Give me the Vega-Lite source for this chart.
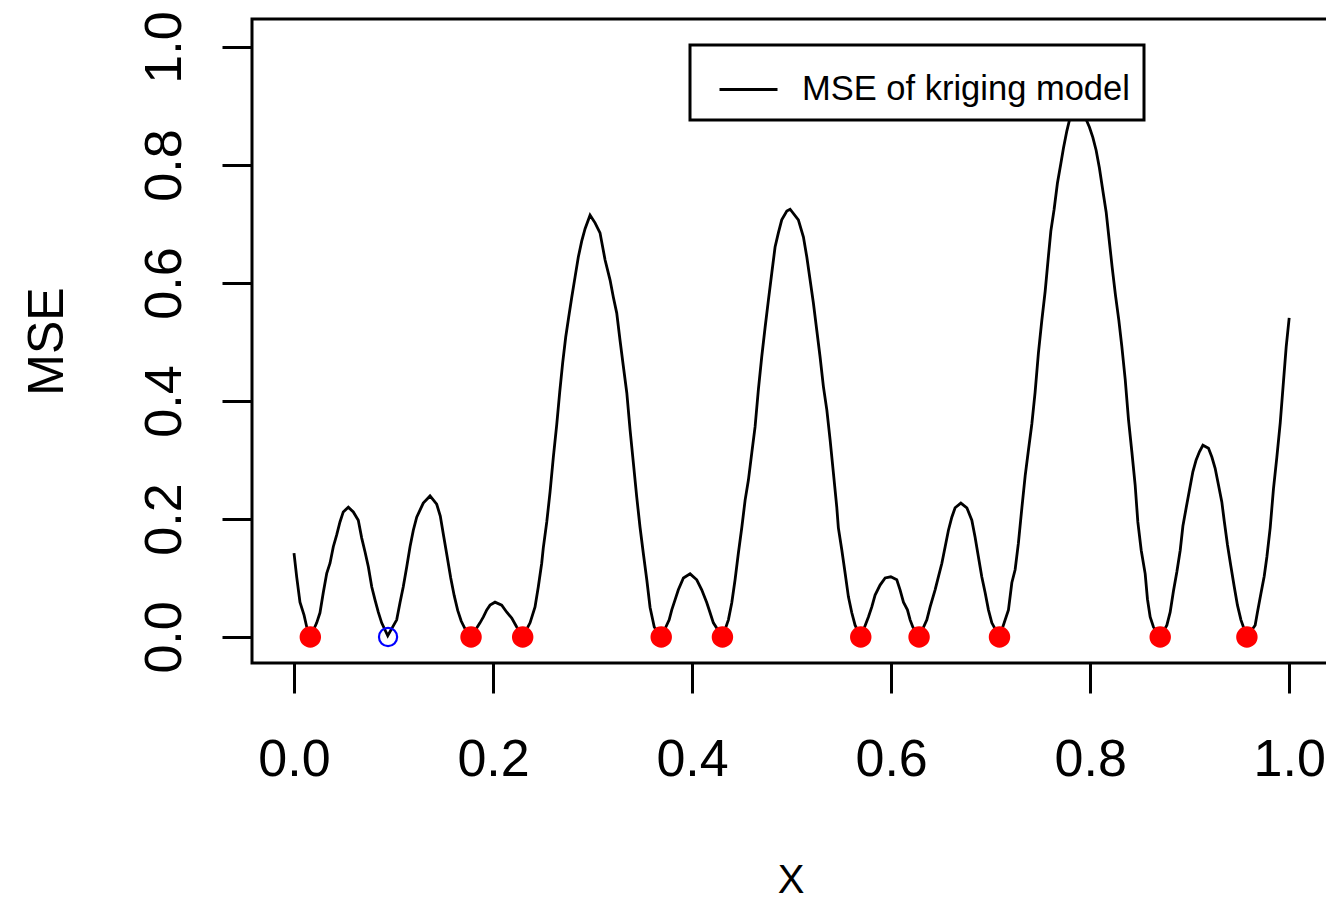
{
  "$schema": "https://vega.github.io/schema/vega-lite/v6.json",
  "width": 1077,
  "height": 644,
  "autosize": {"type": "none"},
  "padding": {"left": 252, "top": 19, "right": -3, "bottom": 239},
  "background": "white",
  "config": {
    "font": "Liberation Sans",
    "view": {"stroke": "black", "strokeWidth": 3},
    "legend": {"strokeWidth": 3}
  },
  "datasets": {
    "curve": [
      {"x": 0.0000, "mse": 0.142}, {"x": 0.0027, "mse": 0.102}, {"x": 0.0060, "mse": 0.059}, {"x": 0.0101, "mse": 0.037},
      {"x": 0.0128, "mse": 0.017}, {"x": 0.0164, "mse": 0.0}, {"x": 0.0228, "mse": 0.024}, {"x": 0.0261, "mse": 0.041},
      {"x": 0.0294, "mse": 0.075}, {"x": 0.0329, "mse": 0.108}, {"x": 0.0362, "mse": 0.125}, {"x": 0.0395, "mse": 0.153},
      {"x": 0.0429, "mse": 0.173}, {"x": 0.0462, "mse": 0.195}, {"x": 0.0495, "mse": 0.212}, {"x": 0.0546, "mse": 0.220},
      {"x": 0.0596, "mse": 0.212}, {"x": 0.0646, "mse": 0.198}, {"x": 0.0680, "mse": 0.168}, {"x": 0.0714, "mse": 0.144},
      {"x": 0.0747, "mse": 0.119}, {"x": 0.0781, "mse": 0.085}, {"x": 0.0814, "mse": 0.063}, {"x": 0.0847, "mse": 0.042},
      {"x": 0.0881, "mse": 0.024}, {"x": 0.0942, "mse": 0.002}, {"x": 0.1032, "mse": 0.029}, {"x": 0.1065, "mse": 0.058},
      {"x": 0.1098, "mse": 0.085}, {"x": 0.1133, "mse": 0.119}, {"x": 0.1166, "mse": 0.153}, {"x": 0.1199, "mse": 0.181},
      {"x": 0.1233, "mse": 0.203}, {"x": 0.1266, "mse": 0.215}, {"x": 0.1299, "mse": 0.227}, {"x": 0.1367, "mse": 0.239},
      {"x": 0.1434, "mse": 0.225}, {"x": 0.1470, "mse": 0.205}, {"x": 0.1505, "mse": 0.170}, {"x": 0.1540, "mse": 0.135},
      {"x": 0.1575, "mse": 0.100}, {"x": 0.1610, "mse": 0.070}, {"x": 0.1645, "mse": 0.045}, {"x": 0.1680, "mse": 0.027},
      {"x": 0.1715, "mse": 0.015}, {"x": 0.1779, "mse": 0.0}, {"x": 0.1869, "mse": 0.024}, {"x": 0.1903, "mse": 0.034},
      {"x": 0.1937, "mse": 0.046}, {"x": 0.1970, "mse": 0.054}, {"x": 0.2020, "mse": 0.059}, {"x": 0.2087, "mse": 0.054},
      {"x": 0.2138, "mse": 0.042}, {"x": 0.2188, "mse": 0.032}, {"x": 0.2238, "mse": 0.017}, {"x": 0.2298, "mse": 0.0},
      {"x": 0.2372, "mse": 0.024}, {"x": 0.2422, "mse": 0.051}, {"x": 0.2455, "mse": 0.085}, {"x": 0.2489, "mse": 0.125},
      {"x": 0.2505, "mse": 0.151}, {"x": 0.2540, "mse": 0.195}, {"x": 0.2573, "mse": 0.246}, {"x": 0.2606, "mse": 0.305},
      {"x": 0.2640, "mse": 0.360}, {"x": 0.2670, "mse": 0.415}, {"x": 0.2700, "mse": 0.465}, {"x": 0.2730, "mse": 0.508},
      {"x": 0.2760, "mse": 0.542}, {"x": 0.2791, "mse": 0.576}, {"x": 0.2824, "mse": 0.610}, {"x": 0.2857, "mse": 0.644},
      {"x": 0.2891, "mse": 0.671}, {"x": 0.2925, "mse": 0.692}, {"x": 0.2975, "mse": 0.715}, {"x": 0.3025, "mse": 0.702},
      {"x": 0.3075, "mse": 0.685}, {"x": 0.3126, "mse": 0.639}, {"x": 0.3176, "mse": 0.605}, {"x": 0.3209, "mse": 0.576},
      {"x": 0.3243, "mse": 0.549}, {"x": 0.3276, "mse": 0.503}, {"x": 0.3310, "mse": 0.458}, {"x": 0.3344, "mse": 0.414},
      {"x": 0.3377, "mse": 0.351}, {"x": 0.3410, "mse": 0.295}, {"x": 0.3444, "mse": 0.237}, {"x": 0.3477, "mse": 0.186},
      {"x": 0.3510, "mse": 0.142}, {"x": 0.3545, "mse": 0.097}, {"x": 0.3578, "mse": 0.050}, {"x": 0.3620, "mse": 0.017},
      {"x": 0.3690, "mse": 0.0}, {"x": 0.3770, "mse": 0.029}, {"x": 0.3796, "mse": 0.046}, {"x": 0.3829, "mse": 0.063},
      {"x": 0.3862, "mse": 0.080}, {"x": 0.3913, "mse": 0.100}, {"x": 0.3980, "mse": 0.107}, {"x": 0.4047, "mse": 0.097},
      {"x": 0.4097, "mse": 0.080}, {"x": 0.4148, "mse": 0.058}, {"x": 0.4181, "mse": 0.041}, {"x": 0.4214, "mse": 0.024},
      {"x": 0.4305, "mse": 0.0}, {"x": 0.4365, "mse": 0.029}, {"x": 0.4399, "mse": 0.058}, {"x": 0.4432, "mse": 0.097},
      {"x": 0.4465, "mse": 0.142}, {"x": 0.4500, "mse": 0.186}, {"x": 0.4533, "mse": 0.232}, {"x": 0.4566, "mse": 0.266},
      {"x": 0.4600, "mse": 0.312}, {"x": 0.4633, "mse": 0.356}, {"x": 0.4666, "mse": 0.419}, {"x": 0.4700, "mse": 0.475},
      {"x": 0.4734, "mse": 0.525}, {"x": 0.4767, "mse": 0.571}, {"x": 0.4801, "mse": 0.617}, {"x": 0.4834, "mse": 0.661},
      {"x": 0.4867, "mse": 0.685}, {"x": 0.4901, "mse": 0.707}, {"x": 0.4952, "mse": 0.722}, {"x": 0.4985, "mse": 0.725},
      {"x": 0.5068, "mse": 0.707}, {"x": 0.5119, "mse": 0.678}, {"x": 0.5153, "mse": 0.644}, {"x": 0.5186, "mse": 0.605},
      {"x": 0.5219, "mse": 0.566}, {"x": 0.5253, "mse": 0.520}, {"x": 0.5286, "mse": 0.475}, {"x": 0.5320, "mse": 0.424},
      {"x": 0.5354, "mse": 0.385}, {"x": 0.5387, "mse": 0.334}, {"x": 0.5420, "mse": 0.278}, {"x": 0.5454, "mse": 0.220},
      {"x": 0.5470, "mse": 0.185}, {"x": 0.5505, "mse": 0.147}, {"x": 0.5538, "mse": 0.108}, {"x": 0.5571, "mse": 0.068},
      {"x": 0.5605, "mse": 0.041}, {"x": 0.5638, "mse": 0.020}, {"x": 0.5695, "mse": 0.0}, {"x": 0.5772, "mse": 0.034},
      {"x": 0.5806, "mse": 0.051}, {"x": 0.5839, "mse": 0.071}, {"x": 0.5889, "mse": 0.088}, {"x": 0.5940, "mse": 0.100},
      {"x": 0.5997, "mse": 0.102}, {"x": 0.6057, "mse": 0.097}, {"x": 0.6090, "mse": 0.080}, {"x": 0.6124, "mse": 0.059},
      {"x": 0.6164, "mse": 0.046}, {"x": 0.6191, "mse": 0.029}, {"x": 0.6218, "mse": 0.017}, {"x": 0.6281, "mse": 0.0},
      {"x": 0.6359, "mse": 0.029}, {"x": 0.6392, "mse": 0.051}, {"x": 0.6442, "mse": 0.080}, {"x": 0.6475, "mse": 0.102},
      {"x": 0.6510, "mse": 0.125}, {"x": 0.6543, "mse": 0.153}, {"x": 0.6576, "mse": 0.181}, {"x": 0.6610, "mse": 0.203},
      {"x": 0.6643, "mse": 0.219}, {"x": 0.6701, "mse": 0.227}, {"x": 0.6761, "mse": 0.219}, {"x": 0.6811, "mse": 0.198},
      {"x": 0.6844, "mse": 0.169}, {"x": 0.6877, "mse": 0.136}, {"x": 0.6911, "mse": 0.102}, {"x": 0.6945, "mse": 0.075},
      {"x": 0.6978, "mse": 0.046}, {"x": 0.7012, "mse": 0.024}, {"x": 0.7089, "mse": 0.0}, {"x": 0.7179, "mse": 0.046},
      {"x": 0.7213, "mse": 0.092}, {"x": 0.7246, "mse": 0.114}, {"x": 0.7279, "mse": 0.159}, {"x": 0.7314, "mse": 0.219},
      {"x": 0.7347, "mse": 0.273}, {"x": 0.7380, "mse": 0.317}, {"x": 0.7414, "mse": 0.361}, {"x": 0.7447, "mse": 0.415},
      {"x": 0.7480, "mse": 0.481}, {"x": 0.7514, "mse": 0.536}, {"x": 0.7548, "mse": 0.586}, {"x": 0.7581, "mse": 0.646},
      {"x": 0.7605, "mse": 0.688}, {"x": 0.7638, "mse": 0.725}, {"x": 0.7671, "mse": 0.769}, {"x": 0.7706, "mse": 0.803},
      {"x": 0.7732, "mse": 0.829}, {"x": 0.7766, "mse": 0.858}, {"x": 0.7799, "mse": 0.881}, {"x": 0.7889, "mse": 0.905},
      {"x": 0.7993, "mse": 0.864}, {"x": 0.8027, "mse": 0.847}, {"x": 0.8060, "mse": 0.825}, {"x": 0.8093, "mse": 0.795},
      {"x": 0.8128, "mse": 0.756}, {"x": 0.8161, "mse": 0.720}, {"x": 0.8188, "mse": 0.678}, {"x": 0.8221, "mse": 0.627},
      {"x": 0.8254, "mse": 0.580}, {"x": 0.8288, "mse": 0.537}, {"x": 0.8318, "mse": 0.493}, {"x": 0.8352, "mse": 0.437},
      {"x": 0.8385, "mse": 0.369}, {"x": 0.8419, "mse": 0.314}, {"x": 0.8452, "mse": 0.258}, {"x": 0.8479, "mse": 0.195},
      {"x": 0.8513, "mse": 0.147}, {"x": 0.8553, "mse": 0.107}, {"x": 0.8576, "mse": 0.064}, {"x": 0.8603, "mse": 0.034},
      {"x": 0.8636, "mse": 0.017}, {"x": 0.8704, "mse": 0.0}, {"x": 0.8771, "mse": 0.020}, {"x": 0.8804, "mse": 0.042},
      {"x": 0.8837, "mse": 0.078}, {"x": 0.8871, "mse": 0.110}, {"x": 0.8905, "mse": 0.147}, {"x": 0.8932, "mse": 0.188},
      {"x": 0.8965, "mse": 0.219}, {"x": 0.8998, "mse": 0.249}, {"x": 0.9032, "mse": 0.280}, {"x": 0.9065, "mse": 0.300},
      {"x": 0.9098, "mse": 0.314}, {"x": 0.9133, "mse": 0.325}, {"x": 0.9189, "mse": 0.320}, {"x": 0.9223, "mse": 0.305},
      {"x": 0.9256, "mse": 0.286}, {"x": 0.9289, "mse": 0.258}, {"x": 0.9323, "mse": 0.229}, {"x": 0.9347, "mse": 0.197},
      {"x": 0.9380, "mse": 0.156}, {"x": 0.9414, "mse": 0.120}, {"x": 0.9447, "mse": 0.086}, {"x": 0.9480, "mse": 0.054},
      {"x": 0.9515, "mse": 0.029}, {"x": 0.9575, "mse": 0.0}, {"x": 0.9658, "mse": 0.020}, {"x": 0.9681, "mse": 0.042},
      {"x": 0.9715, "mse": 0.073}, {"x": 0.9749, "mse": 0.103}, {"x": 0.9776, "mse": 0.136}, {"x": 0.9809, "mse": 0.185},
      {"x": 0.9842, "mse": 0.251}, {"x": 0.9876, "mse": 0.305}, {"x": 0.9910, "mse": 0.363}, {"x": 0.9943, "mse": 0.434},
      {"x": 0.9970, "mse": 0.492}, {"x": 1.0000, "mse": 0.541}
    ],
    "points": [
      {"x": 0.0164, "mse": 0, "kind": "design"},
      {"x": 0.0945, "mse": 0, "kind": "candidate"},
      {"x": 0.1779, "mse": 0, "kind": "design"},
      {"x": 0.2298, "mse": 0, "kind": "design"},
      {"x": 0.3690, "mse": 0, "kind": "design"},
      {"x": 0.4305, "mse": 0, "kind": "design"},
      {"x": 0.5695, "mse": 0, "kind": "design"},
      {"x": 0.6281, "mse": 0, "kind": "design"},
      {"x": 0.7089, "mse": 0, "kind": "design"},
      {"x": 0.8704, "mse": 0, "kind": "design"},
      {"x": 0.9575, "mse": 0, "kind": "design"}
    ]
  },
  "encoding": {
    "x": {
      "field": "x",
      "type": "quantitative",
      "scale": {"domain": [-0.0422, 1.04], "nice": false, "zero": false},
      "axis": {
        "values": [0, 0.2, 0.4, 0.6, 0.8, 1.0],
        "format": ".1f",
        "grid": false,
        "domain": false,
        "tickSize": 30,
        "tickWidth": 3,
        "tickColor": "black",
        "labelFontSize": 52,
        "labelColor": "black",
        "labelBaseline": "alphabetic",
        "labelPadding": 82,
        "labelFlush": false,
        "labelOverlap": false,
        "title": "X",
        "titleFontSize": 40,
        "titleFontWeight": "normal",
        "titleColor": "black",
        "titleBaseline": "alphabetic",
        "titleY": 229
      }
    },
    "y": {
      "field": "mse",
      "type": "quantitative",
      "scale": {"domain": [-0.0441, 1.0475], "nice": false, "zero": false},
      "axis": {
        "values": [0, 0.2, 0.4, 0.6, 0.8, 1.0],
        "format": ".1f",
        "grid": false,
        "domain": false,
        "tickSize": 30,
        "tickWidth": 3,
        "tickColor": "black",
        "labelFontSize": 52,
        "labelColor": "black",
        "labelAngle": 270,
        "labelAlign": "center",
        "labelBaseline": "alphabetic",
        "labelPadding": 42,
        "labelFlush": false,
        "labelOverlap": false,
        "title": "MSE",
        "titleFontSize": 50,
        "titleFontWeight": "normal",
        "titleColor": "black",
        "titleAngle": 270,
        "titleAlign": "center",
        "titleBaseline": "alphabetic",
        "titleX": -190,
        "titleY": 322
      }
    }
  },
  "layer": [
    {
      "data": {"name": "curve"},
      "mark": {"type": "line", "strokeWidth": 2.8, "clip": true},
      "encoding": {
        "color": {
          "datum": "MSE of kriging model",
          "type": "nominal",
          "scale": {"range": ["black"]},
          "legend": {
            "orient": "none",
            "legendX": 438,
            "legendY": 26,
            "title": null,
            "symbolType": "stroke",
            "symbolSize": 3364,
            "symbolStrokeWidth": 2.8,
            "labelFontSize": 34.5,
            "labelColor": "black",
            "labelLimit": 0,
            "labelOffset": 23,
            "padding": 14,
            "symbolOffset": 14,
            "strokeColor": "black",
            "fillColor": "white"
          }
        }
      }
    },
    {
      "data": {"name": "points"},
      "transform": [{"filter": "datum.kind === 'design'"}],
      "mark": {"type": "point", "shape": "circle", "filled": true, "color": "#ff0000", "opacity": 1, "size": 460}
    },
    {
      "data": {"name": "points"},
      "transform": [{"filter": "datum.kind === 'candidate'"}],
      "mark": {"type": "point", "shape": "circle", "filled": false, "color": "#0000ff", "strokeWidth": 2.2, "opacity": 1, "size": 330}
    },
    {
      "mark": {"type": "rule", "color": "black", "strokeWidth": 3},
      "encoding": {"y": {"datum": 0}, "x": null}
    }
  ]
}
